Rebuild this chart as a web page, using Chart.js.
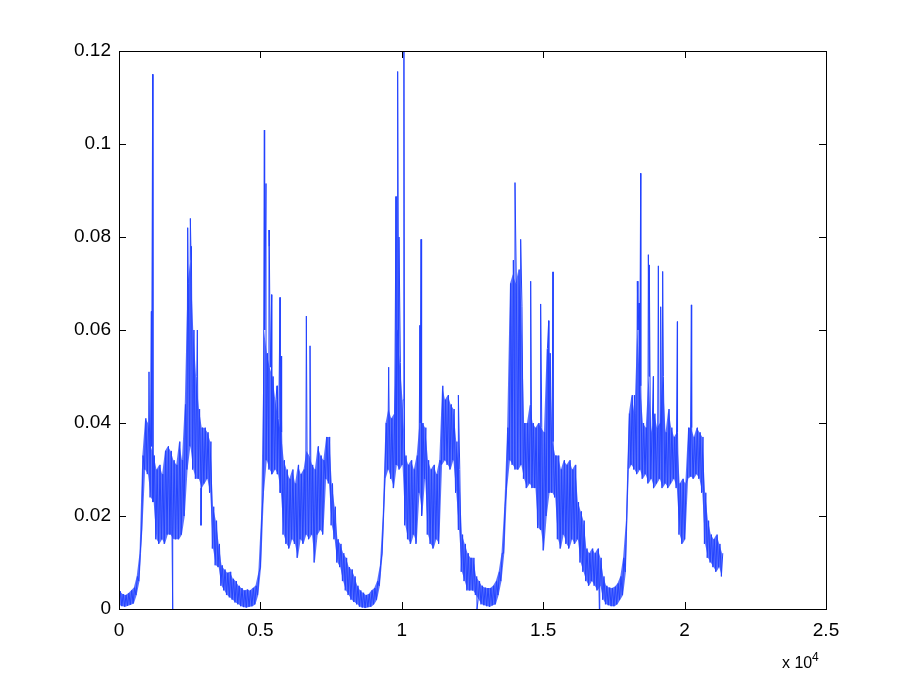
<!DOCTYPE html>
<html>
<head>
<meta charset="utf-8">
<script src="https://cdn.jsdelivr.net/npm/chart.js@4/dist/chart.umd.min.js"></script>
<style>
  html, body { margin: 0; padding: 0; background: #fff; }
  canvas { display: block; }
</style>
</head>
<body>
<canvas id="signal" width="913" height="687"></canvas>
<script>
// sample step of the envelope (x is the sample index)
const step = 100;

// lower edge of the noisy band, one value per 100 samples
const lows = [
  .0008,.0006,.0005,.0007,.0009,.0012,.0030,.0060,.0170,.0300,
  .0290,.0240,.0230,.0150,.0140,.0150,.0140,.0160,.0160,.0150,
  .0150,.0150,.0160,.0200,.0300,.0350,.0300,.0280,.0280,.0260,
  .0270,.0280,.0250,.0130,.0094,.0090,.0050,.0040,.0030,.0025,
  .0020,.0014,.0010,.0006,.0004,.0003,.0005,.0006,.0010,.0030,
  .0090,.0250,.0320,.0300,.0290,.0300,.0290,.0250,.0160,.0140,
  .0130,.0150,.0140,.0110,.0150,.0140,.0160,.0150,.0160,.0100,
  .0160,.0170,.0160,.0280,.0270,.0180,.0150,.0100,.0090,.0060,
  .0040,.0030,.0020,.0015,.0010,.0005,.0003,.0002,.0004,.0005,
  .0010,.0020,.0050,.0120,.0280,.0300,.0280,.0260,.0310,.0300,
  .0310,.0180,.0150,.0140,.0160,.0140,.0250,.0200,.0280,.0160,
  .0140,.0130,.0150,.0140,.0310,.0320,.0310,.0300,.0320,.0250,
  .0170,.0080,.0060,.0040,.0040,.0040,.0030,.0020,.0010,.0008,
  .0006,.0005,.0008,.0010,.0030,.0060,.0120,.0260,.0320,.0310,
  .0300,.0300,.0310,.0280,.0260,.0270,.0260,.0260,.0174,.0170,
  .0126,.0200,.0250,.0250,.0240,.0150,.0130,.0160,.0140,.0130,
  .0150,.0140,.0150,.0100,.0080,.0060,.0050,.0060,.0050,.0040,
  .0050,.0020,.0010,.0008,.0006,.0006,.0010,.0020,.0030,.0080,
  .0300,.0310,.0300,.0290,.0300,.0280,.0290,.0270,.0280,.0260,
  .0270,.0280,.0260,.0270,.0260,.0270,.0280,.0260,.0160,.0140,
  .0150,.0280,.0285,.0280,.0290,.0280,.0250,.0140,.0110,.0100,
  .0090,.0080,.0090,.0070
];

// upper edge of the band, offset by half a step
const highs = [
  .0038,.0032,.0030,.0034,.0040,.0046,.0070,.0120,.0330,.0410,
  .0400,.0350,.0330,.0300,.0310,.0290,.0340,.0350,.0340,.0320,
  .0310,.0360,.0320,.0440,.0700,.0750,.0600,.0500,.0430,.0390,
  .0390,.0380,.0360,.0220,.0190,.0140,.0094,.0085,.0078,.0080,
  .0065,.0060,.0050,.0045,.0040,.0042,.0040,.0045,.0050,.0078,
  .0200,.0600,.0550,.0520,.0500,.0450,.0410,.0380,.0320,.0300,
  .0280,.0300,.0270,.0310,.0290,.0300,.0340,.0330,.0310,.0300,
  .0350,.0330,.0320,.0370,.0370,.0270,.0220,.0150,.0140,.0120,
  .0110,.0090,.0085,.0070,.0050,.0040,.0035,.0030,.0032,.0040,
  .0045,.0060,.0094,.0200,.0400,.0430,.0410,.0420,.0600,.0530,
  .0450,.0330,.0310,.0320,.0300,.0330,.0400,.0400,.0390,.0320,
  .0300,.0310,.0290,.0320,.0480,.0450,.0460,.0440,.0430,.0360,
  .0300,.0160,.0140,.0120,.0110,.0110,.0070,.0060,.0050,.0046,
  .0045,.0045,.0050,.0060,.0080,.0120,.0220,.0390,.0700,.0720,
  .0700,.0730,.0650,.0400,.0400,.0440,.0400,.0390,.0400,.0390,
  .0380,.0560,.0550,.0360,.0330,.0330,.0300,.0320,.0310,.0320,
  .0300,.0310,.0230,.0210,.0190,.0130,.0120,.0130,.0120,.0130,
  .0110,.0070,.0050,.0046,.0045,.0048,.0055,.0070,.0110,.0190,
  .0420,.0460,.0420,.0600,.0480,.0400,.0390,.0500,.0380,.0420,
  .0390,.0400,.0500,.0380,.0430,.0390,.0370,.0380,.0270,.0280,
  .0270,.0390,.0390,.0370,.0390,.0380,.0370,.0250,.0190,.0160,
  .0150,.0160,.0140,.0120
];

// single-sample spikes [sample, value]
const spikes = [
  [1061,.051],[1144,.064],[1191,.115],[1898,0],[2429,.082],[2523,.084],[2560,.078],[2770,.060],[2900,.018],
  [5139,.103],[5198,.0915],[5305,.0815],[5316,.078],[5399,.0676],[5587,.048],[5694,.067],[5729,.0544],
  [6625,.063],[6755,.0566],
  [9536,.052],[9795,.0887],[9854,.1156],[9901,.080],[9960,.053],[10075,.125],[10644,.061],[10679,.0795],
  [12000,.046],[12660,0],
  [13944,.075],[14003,.0917],[14203,.0795],[14557,.0705],[14910,.0656],[15194,.062],[15347,.0725],
  [16985,0],[18223,.046],[18329,.0705],[18390,.0658],[18447,.0937],[18718,.0762],[18753,.074],[18895,.05],
  [19072,.0738],[19154,.065],[19225,.0726],[19744,.0618],[20239,.0654]
];

const xTicks = [0, 0.5, 1, 1.5, 2, 2.5];       // in units of 1e4
const yTicks = [0, 0.02, 0.04, 0.06, 0.08, 0.1, 0.12];

const blue = "#2343ff";

// merge envelope and spikes into one ordered trace
const points = [];
lows.forEach((lo, i) => {
  points.push({ x: i * step, y: lo });
  points.push({ x: i * step + step / 2, y: highs[i] });
});
spikes.forEach(s => points.push({ x: s[0], y: s[1] }));
points.sort((a, b) => a.x - b.x);

// the dense part of the signal, shown as a filled band
const bandLow = lows.map((v, i) => ({ x: i * step + step / 4, y: v }));
const bandHigh = highs.map((v, i) => ({ x: i * step + step / 4, y: v }));

const tickFont = { family: "'Liberation Sans', Arial, sans-serif", size: 19 };

// MATLAB style box with inward ticks on all four sides
const matlabAxes = {
  id: "matlabAxes",
  afterDraw(chart) {
    const ctx = chart.ctx;
    const a = chart.chartArea;
    const xs = chart.scales.x;
    const ys = chart.scales.y;
    const len = 7;
    ctx.save();
    ctx.strokeStyle = "#000";
    ctx.lineWidth = 1;
    ctx.beginPath();
    xTicks.forEach(t => {
      const px = Math.round(xs.getPixelForValue(t * 1e4)) + 0.5;
      ctx.moveTo(px, a.bottom); ctx.lineTo(px, a.bottom - len);
      ctx.moveTo(px, a.top); ctx.lineTo(px, a.top + len);
    });
    yTicks.forEach(t => {
      const py = Math.round(ys.getPixelForValue(t)) + 0.5;
      ctx.moveTo(a.left, py); ctx.lineTo(a.left + len, py);
      ctx.moveTo(a.right, py); ctx.lineTo(a.right - len, py);
    });
    ctx.stroke();
    ctx.strokeRect(Math.round(a.left) + 0.5, Math.round(a.top) + 0.5,
      Math.round(a.right - a.left), Math.round(a.bottom - a.top));

    // exponent label
    ctx.fillStyle = "#000";
    ctx.textBaseline = "alphabetic";
    ctx.textAlign = "left";
    ctx.font = "16px 'Liberation Sans', Arial, sans-serif";
    ctx.fillText("x 10", a.right - 44, 668);
    ctx.font = "12px 'Liberation Sans', Arial, sans-serif";
    ctx.fillText("4", a.right - 14, 661);
    ctx.restore();
  }
};

new Chart(document.getElementById("signal"), {
  type: "line",
  data: {
    datasets: [
      {
        data: points,
        borderColor: blue,
        borderWidth: 1,
        pointRadius: 0,
        tension: 0,
        fill: false,
        order: 0
      },
      {
        data: bandLow,
        borderWidth: 0,
        borderColor: "rgba(0,0,0,0)",
        pointRadius: 0,
        fill: false,
        order: 1
      },
      {
        data: bandHigh,
        borderWidth: 0,
        borderColor: "rgba(0,0,0,0)",
        backgroundColor: "rgba(35,67,255,0.75)",
        pointRadius: 0,
        fill: "-1",
        order: 1
      }
    ]
  },
  options: {
    responsive: false,
    animation: false,
    layout: { padding: { top: 51, right: 87, left: 0, bottom: 0 } },
    plugins: { legend: { display: false }, tooltip: { enabled: false } },
    scales: {
      x: {
        type: "linear",
        min: 0,
        max: 25000,
        grid: { display: false, drawTicks: false },
        border: { display: false },
        afterFit: s => { s.height = 78; },
        afterBuildTicks: s => { s.ticks = xTicks.map(v => ({ value: v * 1e4 })); },
        ticks: {
          color: "#000",
          font: tickFont,
          padding: 10,
          maxRotation: 0,
          callback: v => String(v / 1e4)
        }
      },
      y: {
        min: 0,
        max: 0.12,
        grid: { display: false, drawTicks: false },
        border: { display: false },
        afterFit: s => { s.width = 119; },
        afterBuildTicks: s => { s.ticks = yTicks.map(v => ({ value: v })); },
        ticks: {
          color: "#000",
          font: tickFont,
          padding: 8,
          callback: v => String(Math.round(v * 100) / 100)
        }
      }
    }
  },
  plugins: [matlabAxes]
});
</script>
</body>
</html>
